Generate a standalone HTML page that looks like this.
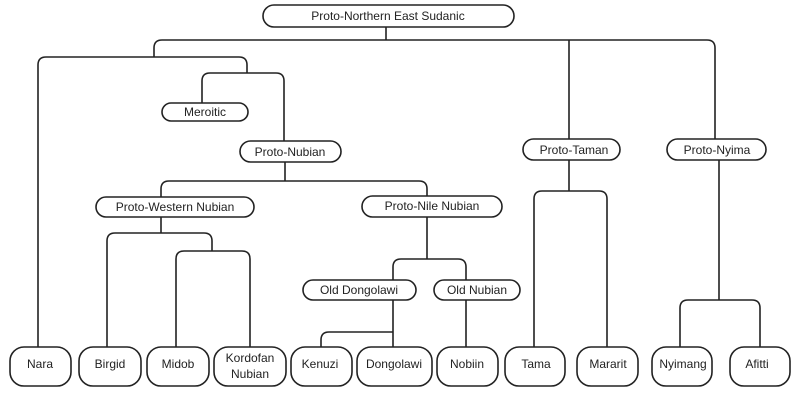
<!DOCTYPE html>
<html><head><meta charset="utf-8"><style>
html,body{margin:0;padding:0;background:#fff;}
svg{display:block;}
text{font-family:"Liberation Sans",sans-serif;font-size:12px;fill:#222;text-anchor:middle;dominant-baseline:central;}
</style></head><body>
<svg width="796" height="403" viewBox="0 0 796 403" xmlns="http://www.w3.org/2000/svg">
<g fill="none" stroke="#222" stroke-width="1.6">
<!-- top -->
<path d="M386 27 V40"/>
<path d="M154 57 V48 Q154 40 162 40 H707 Q715 40 715 48 V139"/>
<path d="M569 40 V139"/>
<!-- left -->
<path d="M38 347 V65 Q38 57 46 57 H239 Q247 57 247 65 V73"/>
<path d="M202 103 V81 Q202 73 210 73 H276 Q284 73 284 81 V141"/>
<path d="M285 162 V181"/>
<path d="M161 197 V189 Q161 181 169 181 H419 Q427 181 427 189 V196"/>
<path d="M161 217 V233"/>
<path d="M107 347 V241 Q107 233 115 233 H204 Q212 233 212 241 V251"/>
<path d="M176 347 V259 Q176 251 184 251 H242 Q250 251 250 259 V347"/>
<path d="M427 217 V259"/>
<path d="M393 280 V267 Q393 259 401 259 H458 Q466 259 466 267 V280"/>
<path d="M393 300 V347"/>
<path d="M321 347 V340 Q321 332 329 332 H393"/>
<path d="M466 300 V347"/>
<!-- Taman -->
<path d="M569 160 V191"/>
<path d="M534 347 V199 Q534 191 542 191 H599 Q607 191 607 199 V347"/>
<!-- Nyima -->
<path d="M719 160 V300"/>
<path d="M680 347 V308 Q680 300 688 300 H752 Q760 300 760 308 V347"/>
</g>
<g fill="#fff" stroke="#222" stroke-width="1.6">
<rect x="263" y="5" width="251" height="22" rx="11"/>
<rect x="162" y="103" width="86" height="18" rx="9"/>
<rect x="240" y="141" width="101" height="21" rx="10.5"/>
<rect x="96" y="197" width="158" height="20" rx="10"/>
<rect x="362" y="196" width="140" height="21" rx="10.5"/>
<rect x="303" y="280" width="113" height="20" rx="10"/>
<rect x="434" y="280" width="86" height="20" rx="10"/>
<rect x="523" y="139" width="97" height="21" rx="10.5"/>
<rect x="667" y="139" width="99" height="21" rx="10.5"/>
<rect x="10" y="347" width="61" height="39" rx="14"/>
<rect x="79" y="347" width="62" height="39" rx="14"/>
<rect x="147" y="347" width="62" height="39" rx="14"/>
<rect x="214" y="347" width="72" height="39" rx="14"/>
<rect x="291" y="347" width="61" height="39" rx="14"/>
<rect x="357" y="347" width="75" height="39" rx="14"/>
<rect x="437" y="347" width="61" height="39" rx="14"/>
<rect x="505" y="347" width="60" height="39" rx="14"/>
<rect x="577" y="347" width="61" height="39" rx="14"/>
<rect x="652" y="347" width="60" height="39" rx="14"/>
<rect x="730" y="347" width="60" height="39" rx="14"/>
</g>
<text x="388" y="16">Proto-Northern East Sudanic</text>
<text x="205" y="112">Meroitic</text>
<text x="290" y="152">Proto-Nubian</text>
<text x="175" y="207">Proto-Western Nubian</text>
<text x="432" y="206">Proto-Nile Nubian</text>
<text x="359" y="290">Old Dongolawi</text>
<text x="477" y="290">Old Nubian</text>
<text x="574" y="150">Proto-Taman</text>
<text x="717" y="150">Proto-Nyima</text>
<text x="40" y="364">Nara</text>
<text x="110" y="364">Birgid</text>
<text x="178" y="364">Midob</text>
<text x="250" y="358">Kordofan</text>
<text x="250" y="374">Nubian</text>
<text x="320" y="364">Kenuzi</text>
<text x="394" y="364">Dongolawi</text>
<text x="467" y="364">Nobiin</text>
<text x="536" y="364">Tama</text>
<text x="608" y="364">Mararit</text>
<text x="683" y="364">Nyimang</text>
<text x="757" y="364">Afitti</text>
</svg>
</body></html>
